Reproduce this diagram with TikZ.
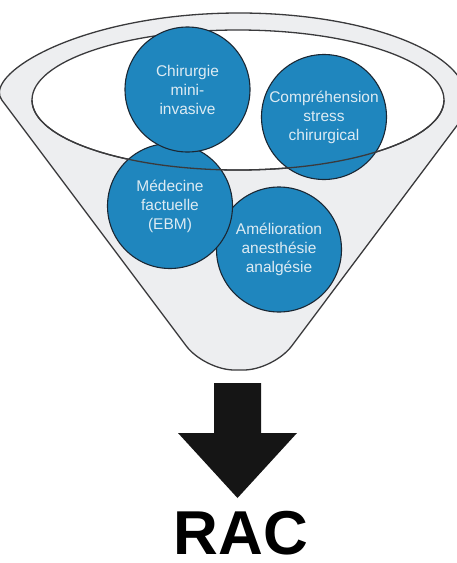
\documentclass[tikz,border=0pt]{standalone}
\usepackage{fontspec}
\setmainfont{Liberation Sans}
\definecolor{funnelgray}{HTML}{EDEEF0}
\definecolor{rimline}{HTML}{3A3A3C}
\definecolor{topicblue}{HTML}{1F86BE}
\definecolor{topicedge}{HTML}{1B2733}
\definecolor{topictext}{HTML}{DDEBF3}
\definecolor{arrowink}{HTML}{151515}
\begin{document}
\begin{tikzpicture}[x=1pt,y=-1pt,
  funnel/.style={fill=funnelgray, draw=rimline, line width=1.3pt, line join=round},
  opening/.style={fill=white, draw=rimline, line width=1.3pt},
  rimfront/.style={draw=rimline, line width=1.3pt},
  topic/.style={circle, fill=topicblue, draw=topicedge, line width=1.1pt,
    minimum size=125pt, inner sep=0pt, align=center, text=topictext,
    font=\fontsize{15.5}{19}\selectfont},
  bigarrow/.style={fill=arrowink, draw=none},
]
\useasboundingbox (0,0) rectangle (457,563);

% funnel body: upper rim arc, tangent sides, rounded spout
\path[funnel, rounded corners=30pt]
  (19.8,124) arc[start angle=164, end angle=376, x radius=228, y radius=87]
  -- (273.7,370) -- (204.3,370) -- cycle;

% opening of the funnel
\path[opening] (238,100) ellipse [x radius=206, y radius=70];

% the four topics
\node[topic] (amel) at (279,249.5) {Amélioration\\anesthésie\\analgésie};
\node[topic] (ebm) at (170,206) {Médecine\\factuelle\\(EBM)};
\node[topic] (stress) at (324,117) {Compréhension\\stress\\chirurgical};
\node[topic] (chir) at (187.5,89.5) {Chirurgie\\mini-\\invasive};

% front edge of the opening, over the topics
\path[rimfront] (444,100) arc[start angle=0, end angle=180, x radius=206, y radius=70];

% block arrow down to the result
\path[bigarrow] (214,383) -- (261,383) -- (261,433) -- (297,433)
  -- (237.5,498) -- (178,433) -- (214,433) -- cycle;

\node[anchor=base, inner sep=0pt, font=\fontsize{62}{62}\selectfont\bfseries] (rac) at (241,554) {RAC};
\end{tikzpicture}
\end{document}
